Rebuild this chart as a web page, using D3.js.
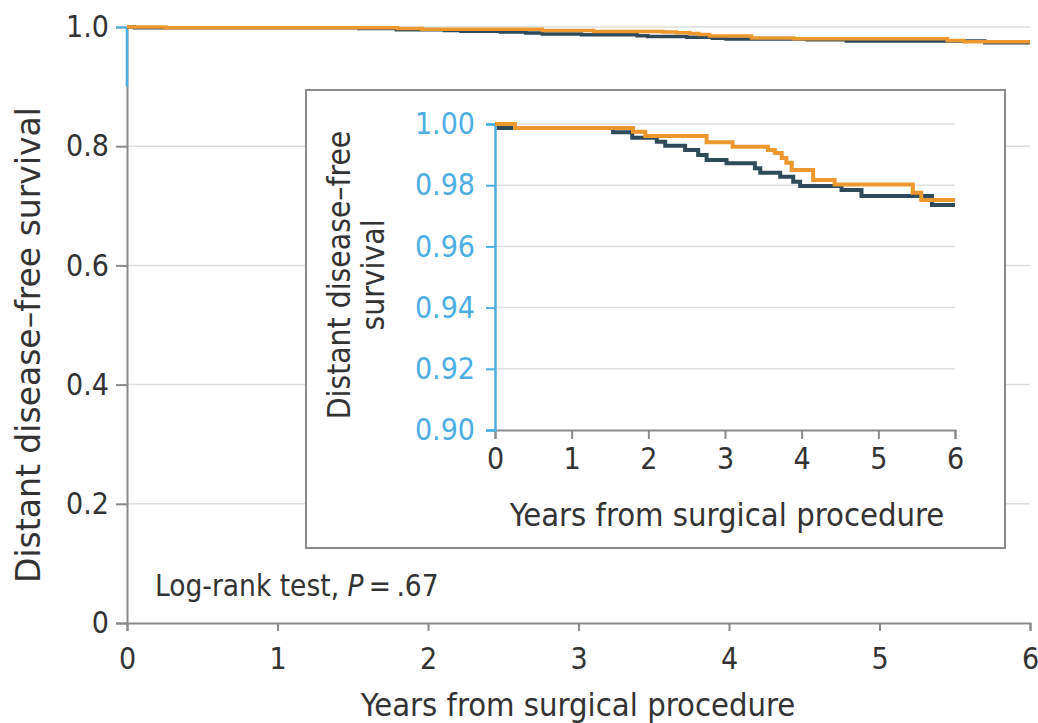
<!DOCTYPE html>
<html>
<head>
<meta charset="utf-8">
<script src="https://cdn.jsdelivr.net/npm/d3@7"></script>
<style>
  body { margin: 0; background: #fff; }
  svg { display: block; }
  text { font-family: "Liberation Sans Narrow", "DejaVu Sans Condensed", "Noto Sans", sans-serif; fill: #333; }
</style>
</head>
<body>
<svg id="chart" width="1038" height="723"></svg>
<script>
// Kaplan-Meier steps (years, survival)
const navyTimes = [0, 0.05, 1.54, 1.79, 2.11, 2.22, 2.48, 2.65, 2.76, 3.02, 3.39, 3.46, 3.72, 3.89, 3.98, 4.52, 4.78, 5.70, 6];
const navySurv  = [1.0, 0.9987, 0.9973, 0.9955, 0.9942, 0.9929, 0.9915, 0.9899, 0.9882, 0.9872, 0.9855, 0.9841, 0.9828, 0.9811, 0.9797, 0.9784, 0.9765, 0.9735, 0.9735];
const orangeTimes = [0, 0.26, 1.80, 1.96, 2.76, 3.10, 3.56, 3.65, 3.74, 3.80, 3.87, 4.15, 4.43, 5.45, 5.56, 6];
const orangeSurv  = [1.0, 0.9987, 0.9975, 0.9961, 0.9940, 0.9926, 0.9915, 0.9905, 0.9889, 0.9873, 0.9850, 0.9817, 0.9802, 0.9775, 0.9752, 0.9752];

const xTicks = [0, 1, 2, 3, 4, 5, 6];
const yTicksMain = [0, 0.2, 0.4, 0.6, 0.8, 1.0];
const yTicksInset = [0.90, 0.92, 0.94, 0.96, 0.98, 1.00];

const NAVY = '#2f4a5a';
const ORANGE = '#ec982e';
const BLUE = '#4daee6';
const AXIS = '#8a8a8a';
const GRID = '#dedede';

const svg = d3.select('#chart');

const series = [
    { t: navyTimes, s: navySurv, color: NAVY },
    { t: orangeTimes, s: orangeSurv, color: ORANGE },
];

function toPoints(d) { return d.t.map((t, i) => [t, d.s[i]]); }

// ---------- main panel ----------
const x = d3.scaleLinear().domain([0, 6]).range([127, 1030]);
const y = d3.scaleLinear().domain([0, 1]).range([623, 27]);

const main = svg.append('g');

main.append('g').selectAll('line')
    .data(yTicksMain.filter(v => v > 0))
    .join('line')
    .attr('x1', x(0)).attr('x2', x(6))
    .attr('y1', d => y(d)).attr('y2', d => y(d))
    .attr('stroke', GRID).attr('stroke-width', 1.5);

const yAxis = main.append('g')
    .attr('transform', `translate(${x(0)},0)`)
    .call(d3.axisLeft(y).tickValues(yTicksMain).tickSize(11).tickPadding(7)
        .tickFormat(d => d === 0 ? '0' : d3.format('.1f')(d)));
yAxis.select('.domain').attr('stroke', AXIS).attr('stroke-width', 2);
yAxis.selectAll('.tick line').attr('stroke', d => d === 1 ? BLUE : AXIS).attr('stroke-width', 2);
yAxis.selectAll('.tick text').attr('font-size', 30).style('fill', '#333');

// blue segment of the y axis marking the 0.90-1.00 range shown in the inset
main.append('line')
    .attr('x1', x(0)).attr('x2', x(0))
    .attr('y1', y(1)).attr('y2', y(0.9))
    .attr('stroke', BLUE).attr('stroke-width', 2.5);

const xAxis = main.append('g')
    .attr('transform', `translate(0,${y(0)})`)
    .call(d3.axisBottom(x).tickValues(xTicks).tickSize(8).tickPadding(17).tickFormat(d3.format('d')));
xAxis.select('.domain').attr('stroke', AXIS).attr('stroke-width', 2);
xAxis.selectAll('.tick line').attr('stroke', AXIS).attr('stroke-width', 2);
xAxis.selectAll('.tick text').attr('font-size', 30).style('fill', '#333');

const lineMain = d3.line().x(d => x(d[0])).y(d => y(d[1])).curve(d3.curveStepAfter);
main.selectAll('path.km')
    .data(series)
    .join('path')
    .attr('class', 'km')
    .attr('d', d => lineMain(toPoints(d)))
    .attr('fill', 'none')
    .attr('stroke', d => d.color)
    .attr('stroke-width', 3.5);

main.append('text')
    .attr('x', 578).attr('y', 716)
    .attr('text-anchor', 'middle')
    .attr('font-size', 32.5)
    .text('Years from surgical procedure');

main.append('text')
    .attr('transform', 'translate(40,345) rotate(-90)')
    .attr('text-anchor', 'middle')
    .attr('font-size', 33)
    .attr('textLength', 476)
    .attr('lengthAdjust', 'spacingAndGlyphs')
    .text('Distant disease–free survival');

const lr = main.append('text')
    .attr('x', 155).attr('y', 596)
    .attr('font-size', 29.5);
lr.append('tspan').text('Log-rank test, ');
lr.append('tspan').attr('font-style', 'italic').text('P');
lr.append('tspan').text('\u2009=\u2009.67');

// ---------- inset ----------
const inset = svg.append('g');
inset.append('rect')
    .attr('x', 306).attr('y', 90)
    .attr('width', 699).attr('height', 458)
    .attr('fill', '#fff')
    .attr('stroke', AXIS).attr('stroke-width', 2);

const xi = d3.scaleLinear().domain([0, 6]).range([495, 955]);
const yi = d3.scaleLinear().domain([0.9, 1]).range([430, 124]);

inset.append('g').selectAll('line')
    .data(yTicksInset.filter(v => v > 0.9))
    .join('line')
    .attr('x1', xi(0)).attr('x2', xi(6))
    .attr('y1', d => yi(d)).attr('y2', d => yi(d))
    .attr('stroke', GRID).attr('stroke-width', 1.5);

const xAxisI = inset.append('g')
    .attr('transform', `translate(0,${yi(0.9)})`)
    .call(d3.axisBottom(xi).tickValues(xTicks).tickSize(9).tickPadding(9).tickFormat(d3.format('d')));
xAxisI.select('.domain').attr('stroke', AXIS).attr('stroke-width', 2);
xAxisI.selectAll('.tick line').attr('stroke', AXIS).attr('stroke-width', 2);
xAxisI.selectAll('.tick text').attr('font-size', 30).style('fill', '#333');

const yAxisI = inset.append('g')
    .attr('transform', `translate(${xi(0)},0)`)
    .call(d3.axisLeft(yi).tickValues(yTicksInset).tickSize(9).tickPadding(11)
        .tickFormat(d3.format('.2f')));
yAxisI.select('.domain').attr('stroke', BLUE).attr('stroke-width', 2.5);
yAxisI.selectAll('.tick line').attr('stroke', BLUE).attr('stroke-width', 2);
yAxisI.selectAll('.tick text').attr('font-size', 30).style('fill', BLUE);

const lineInset = d3.line().x(d => xi(d[0])).y(d => yi(d[1])).curve(d3.curveStepAfter);
inset.selectAll('path.km')
    .data(series)
    .join('path')
    .attr('class', 'km')
    .attr('d', d => lineInset(toPoints(d)))
    .attr('fill', 'none')
    .attr('stroke', d => d.color)
    .attr('stroke-width', 4);

inset.append('text')
    .attr('x', 727).attr('y', 526)
    .attr('text-anchor', 'middle')
    .attr('font-size', 32.5)
    .text('Years from surgical procedure');

const yti = inset.append('text')
    .attr('transform', 'translate(350,275) rotate(-90)')
    .attr('text-anchor', 'middle')
    .attr('font-size', 31.5);
yti.append('tspan').attr('x', 0).attr('dy', 0).text('Distant disease–free');
yti.append('tspan').attr('x', 0).attr('dy', 34).text('survival');
</script>
</body>
</html>
